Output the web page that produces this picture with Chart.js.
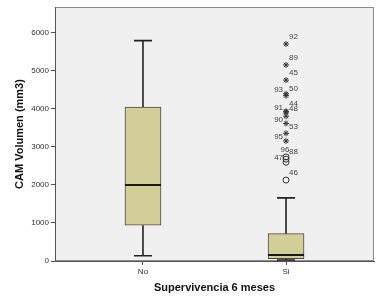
<!DOCTYPE html>
<html>
<head>
<meta charset="utf-8">
<script src="https://cdn.jsdelivr.net/npm/chart.js@4"></script>
<style>
	html, body { margin: 0; padding: 0; background: #fff; }
	#wrap { width: 382px; height: 307px; }
</style>
</head>
<body>
<div id="wrap"><canvas id="boxChart" width="382" height="307"></canvas></div>
<script>
// box plot summary per group
const groups = ['No', 'Si'];
const groupPos = [1, 2];
const whiskerLow = [140, 25];
const q1 = [940, 60];
const median = [2000, 160];
const q3 = [4050, 720];
const whiskerHigh = [5800, 1660];

// outliers (all in group "Si")
const outlierIds = [92, 89, 45, 93, 50, 44, 91, 48, 90, 53, 95, 96, 88, 47, 46];
const outlierValues = [5710, 5160, 4760, 4400, 4350, 3940, 3920, 3810, 3620, 3360, 3160, 2740, 2680, 2600, 2130];
const outlierExtreme = [true, true, true, true, true, true, true, true, true, true, true, false, false, false, false];
const labelSide = ['r', 'r', 'r', 'l', 'r', 'r', 'l', 'r', 'l', 'r', 'l', 'c', 'r', 'l', 'r'];

const yTicks = [0, 1000, 2000, 3000, 4000, 5000, 6000];

const FONT = "'Liberation Sans', Arial, sans-serif";
const capHalf = 0.063;
const boxHalf = 0.126;

// whiskers + caps as one broken line
const whiskerData = [];
groupPos.forEach((p, i) => {
	whiskerData.push({x: p, y: q3[i]}, {x: p, y: whiskerHigh[i]}, {x: p, y: null});
	whiskerData.push({x: p - capHalf, y: whiskerHigh[i]}, {x: p + capHalf, y: whiskerHigh[i]}, {x: p, y: null});
	whiskerData.push({x: p, y: q1[i]}, {x: p, y: whiskerLow[i]}, {x: p, y: null});
	whiskerData.push({x: p - capHalf, y: whiskerLow[i]}, {x: p + capHalf, y: whiskerLow[i]}, {x: p, y: null});
});

const medianData = [];
groupPos.forEach((p, i) => {
	medianData.push({x: p - boxHalf, y: median[i]}, {x: p + boxHalf, y: median[i]}, {x: p, y: null});
});

const outlierGroupPos = 2;
const circlePts = [];
const starPts = [];
outlierValues.forEach((v, i) => {
	(outlierExtreme[i] ? starPts : circlePts).push({x: outlierGroupPos, y: v});
});

const framePlugin = {
	id: 'frame',
	beforeDraw(chart) {
		const {ctx, chartArea: a} = chart;
		ctx.save();
		ctx.fillStyle = '#F0F0F0';
		ctx.fillRect(a.left, a.top, a.width, a.height);
		ctx.strokeStyle = '#8c8c8c';
		ctx.lineWidth = 1;
		ctx.strokeRect(a.left + 0.5, a.top + 0.5, a.width - 1, a.height - 1);
		ctx.restore();
	}
};

const labelPlugin = {
	id: 'outlierLabels',
	afterDatasetsDraw(chart) {
		const {ctx, scales: {x, y}} = chart;
		ctx.save();
		ctx.font = '8px ' + FONT;
		ctx.fillStyle = '#444';
		ctx.textBaseline = 'middle';
		outlierIds.forEach((id, i) => {
			const px = x.getPixelForValue(outlierGroupPos);
			const py = y.getPixelForValue(outlierValues[i]);
			if (labelSide[i] === 'r') {
				ctx.textAlign = 'left';
				ctx.fillText(String(id), px + 3, py - 7);
			} else if (labelSide[i] === 'c') {
				ctx.textAlign = 'center';
				ctx.fillText(String(id), px - 1, py - 7);
			} else {
				ctx.textAlign = 'right';
				ctx.fillText(String(id), px - 3, py - 4);
			}
		});
		ctx.restore();
	}
};

const boxChart = new Chart(document.getElementById('boxChart'), {
	type: 'bar',
	data: {
		datasets: [
			{
				type: 'bar',
				data: groupPos.map((p, i) => ({x: p, y: [q1[i], q3[i]]})),
				backgroundColor: '#D3CE98',
				borderColor: '#4a4a4a',
				borderWidth: 1,
				borderSkipped: false,
				barThickness: 36,
				order: 3
			},
			{
				type: 'line',
				data: whiskerData,
				borderColor: '#222',
				borderWidth: 1.6,
				pointRadius: 0,
				spanGaps: false,
				order: 2
			},
			{
				type: 'line',
				data: medianData,
				borderColor: '#1a1a1a',
				borderWidth: 2,
				pointRadius: 0,
				spanGaps: false,
				order: 1
			},
			{
				type: 'scatter',
				data: circlePts,
				pointStyle: 'circle',
				radius: 3,
				borderColor: '#333',
				backgroundColor: 'rgba(0,0,0,0)',
				borderWidth: 1,
				order: 0
			},
			{
				type: 'scatter',
				data: starPts,
				pointStyle: 'star',
				radius: 3,
				borderColor: '#333',
				borderWidth: 1,
				order: 0
			}
		]
	},
	options: {
		responsive: false,
		animation: false,
		events: [],
		layout: { padding: { top: 7, right: 8, left: 0, bottom: 0 } },
		plugins: {
			legend: { display: false },
			tooltip: { enabled: false }
		},
		scales: {
			x: {
				type: 'linear',
				min: 0.385,
				max: 2.615,
				offset: false,
				afterFit: (s) => { s.height = 46; },
				afterBuildTicks: (s) => { s.ticks = groupPos.map(v => ({value: v})); },
				grid: { drawOnChartArea: false, offset: false, tickLength: 4, color: '#555' },
				border: { color: '#555' },
				ticks: {
					padding: 2,
					color: '#333',
					font: { family: FONT, size: 8 },
					callback: (v) => groups[groupPos.indexOf(v)]
				},
				title: {
					display: true,
					text: 'Supervivencia 6 meses',
					color: '#111',
					font: { family: FONT, size: 11, weight: 'bold' },
					padding: { top: 12, bottom: 12 }
				}
			},
			y: {
				min: 0,
				max: 6684,
				afterFit: (s) => { s.width = 55; },
				afterBuildTicks: (s) => { s.ticks = yTicks.map(v => ({value: v})); },
				grid: { drawOnChartArea: false, tickLength: 4, color: '#555' },
				border: { color: '#555' },
				ticks: {
					padding: 2,
					color: '#333',
					font: { family: FONT, size: 8 },
					callback: (v) => String(v)
				},
				title: {
					display: true,
					text: 'CAM Volumen (mm3)',
					color: '#111',
					font: { family: FONT, size: 11, weight: 'bold' },
					padding: { top: 13, bottom: 13 }
				}
			}
		}
	},
	plugins: [framePlugin, labelPlugin]
});
</script>
</body>
</html>
